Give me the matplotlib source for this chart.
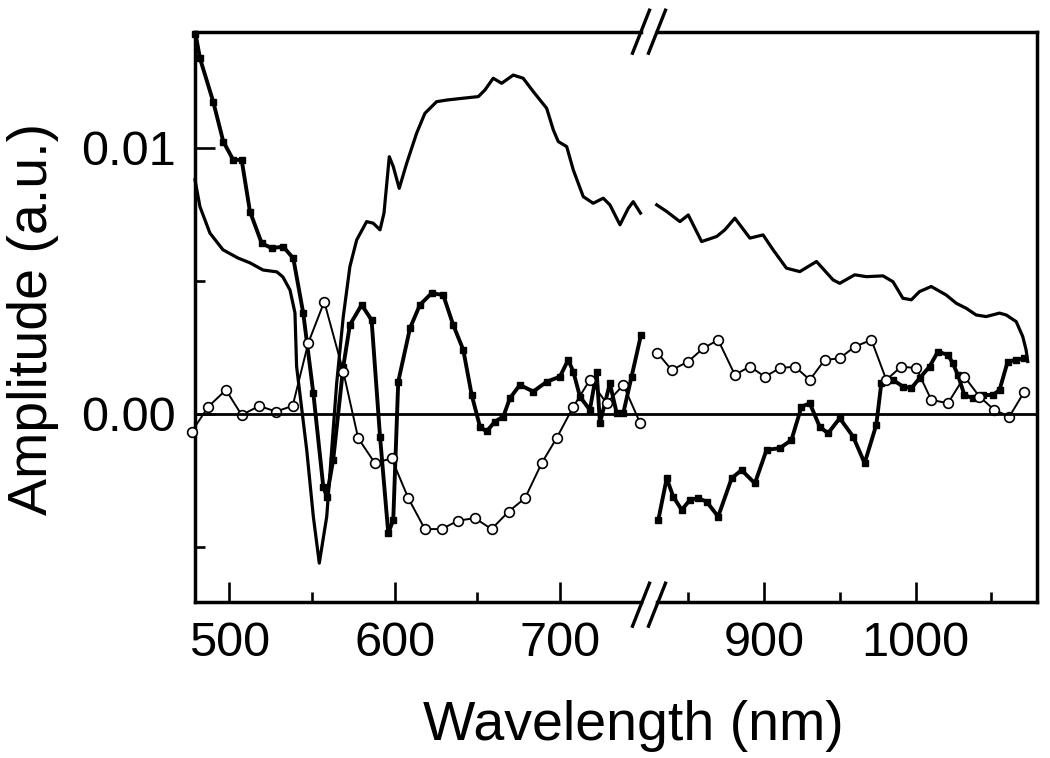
import matplotlib
matplotlib.use("Agg")
import matplotlib.pyplot as plt
import matplotlib.transforms as mtransforms
from matplotlib.lines import Line2D
from matplotlib.ticker import FixedLocator, FormatStrFormatter

plt.rcParams['font.family'] = ['Liberation Sans', 'DejaVu Sans']

# ---------------- data (wavelength in nm, amplitude in a.u.) ----------------
# Solid line, visible range
solid_left_x = [479.3, 482.3, 488.3, 496.2, 505.3, 512.5, 520.4, 528.8, 532.4, 536.7,
                539.7, 540.7, 546.8, 550.8, 554.4, 558.9, 561.9, 564.9, 568.9, 572.9,
                577.0, 583.0, 587.0, 591.1, 593.5, 596.7, 599.1, 602.7, 607.2, 613.2,
                618.2, 625.3, 631.4, 641.4, 650.5, 654.5, 659.5, 664.6, 671.6, 677.6,
                683.7, 691.8, 695.8, 698.8, 703.9, 707.9, 713.9, 719.9, 726.0, 730.0,
                736.1, 741.1, 744.1, 748.5]
solid_left_y = [0.0088, 0.00779, 0.0068, 0.00617, 0.00586, 0.00568, 0.00541, 0.00534, 0.00515, 0.00466,
                0.0038, 0.00178, -0.00135, -0.00386, -0.00561, -0.00386, -0.00135, 0.00115, 0.00366, 0.00554,
                0.00654, 0.00723, 0.00717, 0.00692, 0.00755, 0.00967, 0.0093, 0.00848, 0.00942, 0.01055,
                0.0113, 0.01174, 0.0118, 0.01187, 0.01193, 0.01218, 0.01262, 0.01243, 0.01274, 0.01262,
                0.01212, 0.01149, 0.01068, 0.01024, 0.01005, 0.00917, 0.00817, 0.00792, 0.00811, 0.00786,
                0.00711, 0.00773, 0.00798, 0.00755]
solid_right_x = [829.4, 836.0, 844.7, 850.2, 859.0, 868.9, 874.3, 880.9, 890.8, 899.5,
                 906.1, 914.9, 923.7, 934.7, 945.6, 950.0, 959.9, 967.6, 978.5, 985.1,
                 991.6, 997.2, 1002.6, 1010.3, 1020.2, 1026.8, 1033.4, 1039.9, 1046.5, 1055.3,
                 1059.7, 1066.3, 1070.6, 1072.8, 1073.9]
solid_right_y = [0.00786, 0.00761, 0.00723, 0.00748, 0.00648, 0.00667, 0.00692, 0.00736, 0.00661, 0.00673,
                 0.00617, 0.00548, 0.00535, 0.00573, 0.00504, 0.00491, 0.00523, 0.00516, 0.00519, 0.00497,
                 0.00435, 0.00429, 0.0046, 0.00479, 0.00447, 0.00416, 0.00397, 0.00372, 0.00366, 0.00379,
                 0.00372, 0.00347, 0.00291, 0.00241, 0.00197]

# Filled squares
sq_left_x = [479.6, 482.3, 490.3, 496.4, 502.4, 507.5, 512.5, 519.6, 525.6, 532.6,
             538.7, 544.7, 550.8, 556.8, 558.9, 562.8, 568.9, 572.9, 580.0, 586.0,
             591.1, 596.1, 599.1, 602.1, 609.2, 615.2, 622.3, 629.3, 635.3, 641.4,
             646.5, 651.5, 655.5, 660.5, 665.6, 669.6, 675.6, 683.7, 691.8, 699.8,
             704.8, 707.9, 711.9, 717.9, 722.0, 724.0, 730.0, 734.1, 738.1, 743.1,
             748.8]
sq_left_y = [0.0143, 0.01337, 0.01174, 0.01024, 0.00955, 0.00955, 0.00761, 0.00642, 0.00623, 0.00629,
             0.00585, 0.00379, 0.00078, -0.00273, -0.00311, -0.00173, 0.00178, 0.00335, 0.0041, 0.00353,
             -0.00085, -0.00449, -0.00398, 0.00121, 0.00322, 0.0041, 0.00454, 0.00447, 0.00335, 0.00241,
             0.00071, -0.00048, -0.00066, -0.00029, -0.0001, 0.00059, 0.00109, 0.00084, 0.00121, 0.0014,
             0.00203, 0.00159, 0.00065, 0.00015, 0.00159, -0.00035, 0.00115, 0.00003, 0.00003, 0.0014,
             0.00297]
sq_right_x = [830.5, 836.0, 840.3, 845.9, 851.3, 856.8, 862.3, 869.9, 878.8, 885.3,
              894.1, 901.8, 910.5, 918.2, 924.8, 930.3, 936.8, 942.3, 950.0, 958.8,
              966.4, 974.1, 977.4, 985.1, 991.6, 997.2, 1002.6, 1009.2, 1014.7, 1021.3,
              1024.5, 1027.8, 1032.2, 1037.7, 1044.3, 1050.9, 1055.3, 1060.7, 1066.3, 1071.7]
sq_right_y = [-0.00398, -0.00242, -0.00311, -0.00361, -0.00323, -0.00317, -0.0033, -0.00386, -0.00242, -0.00211,
              -0.00261, -0.00135, -0.00129, -0.00098, 0.00027, 0.0004, -0.00048, -0.00073, -0.00016, -0.00085,
              -0.00185, -0.00041, 0.00115, 0.00128, 0.00103, 0.00097, 0.00134, 0.00178, 0.00234, 0.00222,
              0.00191, 0.00147, 0.00071, 0.00059, 0.00071, 0.00071, 0.0009, 0.00197, 0.00203, 0.00209]

# Open circles
ci_left_x = [477.3, 487.3, 498.0, 507.5, 518.1, 528.2, 538.3, 547.7, 557.4, 568.9,
             577.9, 588.0, 598.1, 608.2, 618.2, 628.3, 638.4, 648.5, 658.5, 668.8,
             678.7, 688.8, 697.8, 707.9, 717.9, 728.0, 738.1, 748.2]
ci_left_y = [-0.00067, 0.00027, 0.0009, -0.00004, 0.0003, 0.00009, 0.0003, 0.00266, 0.00422, 0.00159,
             -0.00091, -0.00185, -0.00167, -0.00317, -0.00433, -0.00433, -0.00401, -0.00392, -0.00433, -0.00367,
             -0.00317, -0.00185, -0.00091, 0.00027, 0.00128, 0.0004, 0.00109, -0.00033]
ci_right_x = [829.8, 839.3, 850.2, 860.1, 869.9, 880.9, 890.8, 900.7, 910.5, 920.4,
              930.3, 940.1, 950.0, 959.9, 970.9, 980.7, 990.6, 1000.5, 1010.3, 1021.3,
              1032.2, 1042.1, 1051.9, 1061.8, 1071.7]
ci_right_y = [0.0023, 0.00165, 0.00197, 0.00247, 0.00278, 0.00147, 0.00178, 0.0014, 0.00172, 0.00178,
              0.00128, 0.00203, 0.00209, 0.00253, 0.00278, 0.00128, 0.00178, 0.00172, 0.00053, 0.0004,
              0.0014, 0.00065, 0.00015, -0.0001, 0.00084]

left_xlim = (479.3, 748.8)
right_xlim = (829.6, 1080.0)
y_lim = (-0.00706, 0.01437)
left_major = [500, 600, 700]
left_minor = [550, 650]
right_major = [900, 1000]
right_minor = [850, 950, 1050]
y_major = [0.0, 0.01]
y_minor = [-0.005, 0.005]

# ---------------- figure ----------------
W, H = 1050, 758
fig = plt.figure(figsize=(W / 100, H / 100), dpi=100)

def fx(px):
    return px / W

def fy(py):
    return 1 - py / H

top_px, bot_px = 31.7, 601.7
x0_px, b1_px, b2_px, x1_px = 195.0, 641.0, 657.0, 1037.0
ax1 = fig.add_axes([fx(x0_px), fy(bot_px), (b1_px - x0_px) / W, (bot_px - top_px) / H])
ax2 = fig.add_axes([fx(b2_px), fy(bot_px), (x1_px - b2_px) / W, (bot_px - top_px) / H])

spine_lw = 2.5
tick_fs = 35
label_fs = 40

for ax, xs_list in ((ax1, [(solid_left_x, solid_left_y), (sq_left_x, sq_left_y), (ci_left_x, ci_left_y)]),
                    (ax2, [(solid_right_x, solid_right_y), (sq_right_x, sq_right_y), (ci_right_x, ci_right_y)])):
    (sx, sy), (qx, qy), (cx, cy) = xs_list
    ax.plot(sx, sy, color='black', lw=2.3, zorder=3, clip_on=False)
    ax.plot(qx, qy, color='black', lw=2.8, marker='s', ms=5, mfc='black', mec='black',
            zorder=4, clip_on=False)
    ax.plot(cx, cy, color='black', lw=1.4, marker='o', ms=7, mfc='white', mec='black',
            mew=1.2, zorder=5, clip_on=False)
    ax.set_ylim(*y_lim)
    for sp in ax.spines.values():
        sp.set_linewidth(spine_lw)
    ax.tick_params(which='both', direction='in', width=1.9, top=False, right=False,
                   labelsize=tick_fs)
    ax.tick_params(which='major', length=14.5, pad=14)
    ax.tick_params(which='minor', length=7.5)

ax1.set_xlim(*left_xlim)
ax2.set_xlim(*right_xlim)
ax1.spines['right'].set_visible(False)
ax2.spines['left'].set_visible(False)

ax1.xaxis.set_major_locator(FixedLocator(left_major))
ax1.xaxis.set_minor_locator(FixedLocator(left_minor))
ax2.xaxis.set_major_locator(FixedLocator(right_major))
ax2.xaxis.set_minor_locator(FixedLocator(right_minor))

ax1.yaxis.set_major_locator(FixedLocator(y_major))
ax1.yaxis.set_minor_locator(FixedLocator(y_minor))
ax1.yaxis.set_major_formatter(FormatStrFormatter('%.2f'))
ax1.tick_params(axis='y', which='major', pad=14)
ax2.tick_params(axis='y', which='both', left=False, labelleft=False)

# zero line spanning both panels
trans = mtransforms.blended_transform_factory(fig.transFigure, ax1.transData)
fig.add_artist(Line2D([fx(x0_px), fx(x1_px)], [0, 0], transform=trans, color='black', lw=2.0, zorder=2))

# break marks
for cx_px in (b1_px, b2_px):
    for cy_px in (top_px, bot_px + 3):
        fig.add_artist(Line2D([fx(cx_px - 8.5), fx(cx_px + 8.5)], [fy(cy_px + 21.5), fy(cy_px - 21.5)],
                              transform=fig.transFigure, color='black', lw=2.4))

fig.text(fx(33), fy(319), 'Amplitude (a.u.)', rotation=90, ha='center', va='center', fontsize=label_fs)
fig.text(fx(633), fy(740), 'Wavelength (nm)', ha='center', va='baseline', fontsize=label_fs)

fig.savefig('out.png', dpi=100)
